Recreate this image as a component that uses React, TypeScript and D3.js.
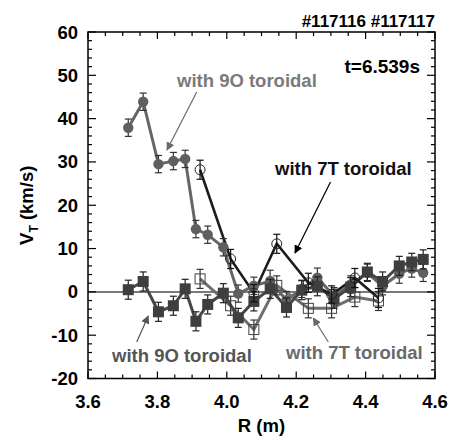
import React from "react";
import * as d3 from "d3";

// ---- data ----
const R9 = [3.716, 3.759, 3.803, 3.846, 3.880, 3.911, 3.945, 3.990, 4.033, 4.078, 4.125, 4.172, 4.216, 4.261, 4.309, 4.357, 4.405, 4.449, 4.497, 4.533, 4.566];
const v9Circle = [37.9, 43.9, 29.5, 30.2, 30.7, 14.5, 13.2, 10.3, -0.4, 1.4, 2.5, -1.9, 0.7, 3.3, -1.0, 1.7, 4.4, 1.3, 4.2, 5.4, 4.4];
const e9Circle = [2.0, 2.0, 2.0, 2.0, 2.0, 2.0, 2.0, 2.0, 2.0, 2.0, 2.5, 2.0, 2.0, 2.2, 2.0, 2.0, 2.0, 2.0, 2.2, 2.0, 2.0];
const v9Square = [0.5, 2.4, -4.6, -3.2, 0.7, -6.8, -2.9, -0.3, -6.0, -2.2, 0.7, -3.6, 0.4, 1.3, -1.6, 1.1, 4.6, 2.4, 6.0, 6.9, 7.5];
const e9Square = [2.2, 2.2, 2.2, 2.2, 2.2, 2.2, 2.2, 2.2, 2.2, 2.2, 2.2, 2.2, 2.2, 2.2, 2.2, 2.2, 2.0, 2.2, 2.2, 2.0, 2.2];
const R7 = [3.923, 4.011, 4.078, 4.144, 4.235, 4.302, 4.369, 4.437];
const v7Circle = [28.2, 7.6, -0.3, 11.1, 2.1, -0.6, 3.2, -1.4];
const e7Circle = [2.2, 2.2, 2.0, 2.2, 2.2, 2.0, 2.2, 2.2];
const v7Square = [3.0, -3.2, -8.7, 1.5, -3.8, -3.8, -1.2, -2.1];
const e7Square = [2.2, 2.2, 2.2, 2.2, 2.2, 2.2, 2.2, 2.2];

const xTicks = [3.6, 3.8, 4.0, 4.2, 4.4, 4.6];
const yTicks = [-20, -10, 0, 10, 20, 30, 40, 50, 60];

const FONT = "'Liberation Sans', Arial, Helvetica, sans-serif";

export default function App() {
  const W = 452, H = 437;
  const x0 = 88, x1 = 435, y0 = 32, y1 = 378.5;
  const x = d3.scaleLinear().domain([3.6, 4.6]).range([x0, x1]);
  const y = d3.scaleLinear().domain([-20, 60]).range([y1, y0]);
  const line = d3.line<[number, number]>().x(d => x(d[0])).y(d => y(d[1]));

  const xMinor = d3.range(0, 21).map(i => 3.6 + i * 0.05);
  const yMinor = d3.range(0, 41).map(i => -20 + i * 2);

  const errBars = (R: number[], v: number[], e: number[], col: string, key: string) =>
    R.map((r, i) => {
      const cx = x(r), ya = y(v[i] + e[i]), yb = y(v[i] - e[i]);
      return (
        <g key={key + i} stroke={col} strokeWidth={1.2}>
          <line x1={cx} x2={cx} y1={ya} y2={yb} />
          <line x1={cx - 3.5} x2={cx + 3.5} y1={ya} y2={ya} />
          <line x1={cx - 3.5} x2={cx + 3.5} y1={yb} y2={yb} />
        </g>
      );
    });

  const pts = (R: number[], v: number[]) => R.map((r, i) => [r, v[i]] as [number, number]);

  return (
    <svg width={W} height={H} style={{ position: "absolute", left: 0, top: 0, background: "#fff" }} fontFamily={FONT}>
      <rect width={W} height={H} fill="#fff" />
      {/* zero line */}
      <line x1={x0} x2={x1} y1={y(0)} y2={y(0)} stroke="#7a7a7a" strokeWidth={2} />

      {/* 9O circles */}
      <path d={line(pts(R9, v9Circle)) || ""} fill="none" stroke="#666" strokeWidth={3} />
      {/* 7T open squares */}
      <path d={line(pts(R7, v7Square)) || ""} fill="none" stroke="#6e6e6e" strokeWidth={3} />
      {/* 9O squares */}
      <path d={line(pts(R9, v9Square)) || ""} fill="none" stroke="#474747" strokeWidth={3} />
      {/* 7T open circles */}
      <path d={line(pts(R7, v7Circle)) || ""} fill="none" stroke="#1c1c1c" strokeWidth={2.6} />

      {errBars(R9, v9Circle, e9Circle, "#333", "ec")}
      {R9.map((r, i) => (
        <circle key={"c" + i} cx={x(r)} cy={y(v9Circle[i])} r={5.2} fill="#5f5f5f" />
      ))}
      {errBars(R7, v7Square, e7Square, "#333", "es")}
      {R7.map((r, i) => (
        <rect key={"os" + i} x={x(r) - 5} y={y(v7Square[i]) - 5} width={10} height={10} fill="none" stroke="#444" strokeWidth={1} />
      ))}
      {errBars(R9, v9Square, e9Square, "#222", "eq")}
      {R9.map((r, i) => (
        <rect key={"s" + i} x={x(r) - 5.5} y={y(v9Square[i]) - 5.5} width={11} height={11} fill="#3e3e3e" />
      ))}
      {errBars(R7, v7Circle, e7Circle, "#111", "eo")}
      {R7.map((r, i) => (
        <circle key={"oc" + i} cx={x(r)} cy={y(v7Circle[i])} r={5} fill="none" stroke="#222" strokeWidth={1} />
      ))}

      {/* frame */}
      <rect x={x0} y={y0} width={x1 - x0} height={y1 - y0} fill="none" stroke="#000" strokeWidth={1.5} />
      {/* ticks */}
      {xMinor.map((t, i) => {
        const len = i % 4 === 0 ? 7 : 4;
        return (
          <g key={"xt" + i} stroke="#000" strokeWidth={1.2}>
            <line x1={x(t)} x2={x(t)} y1={y1} y2={y1 - len} />
            <line x1={x(t)} x2={x(t)} y1={y0} y2={y0 + len} />
          </g>
        );
      })}
      {yMinor.map((t, i) => {
        const len = i % 5 === 0 ? 8 : 4;
        return (
          <g key={"yt" + i} stroke="#000" strokeWidth={1.2}>
            <line x1={x0} x2={x0 + len} y1={y(t)} y2={y(t)} />
            <line x1={x1} x2={x1 - len} y1={y(t)} y2={y(t)} />
          </g>
        );
      })}
      {/* tick labels */}
      {xTicks.map(t => (
        <text key={"xl" + t} x={x(t)} y={408} textAnchor="middle" fontSize={18.5} fontWeight="bold">{t.toFixed(1)}</text>
      ))}
      {yTicks.map(t => (
        <text key={"yl" + t} x={78} y={y(t) + 6.5} textAnchor="end" fontSize={18.5} fontWeight="bold">{t}</text>
      ))}
      {/* axis titles */}
      <text x={(x0 + x1) / 2} y={432} textAnchor="middle" fontSize={18.5} fontWeight="bold">R (m)</text>
      <text transform={`translate(33,${(y0 + y1) / 2}) rotate(-90)`} textAnchor="middle" fontSize={18.5} fontWeight="bold">
        V<tspan fontSize={12} dy={5}>T</tspan><tspan dy={-5}> (km/s)</tspan>
      </text>

      {/* header */}
      <text x={435} y={27} textAnchor="end" fontSize={17} fontWeight="bold">#117116 #117117</text>
      <text x={420} y={73} textAnchor="end" fontSize={19} fontWeight="bold">t=6.539s</text>

      {/* annotations */}
      <defs>
        <marker id="ahg" viewBox="0 0 10 10" refX="9" refY="5" markerWidth="7" markerHeight="7" orient="auto-start-reverse">
          <path d="M0,0 L10,5 L0,10 z" fill="#6a6a6a" />
        </marker>
        <marker id="ahb" viewBox="0 0 10 10" refX="9" refY="5" markerWidth="7" markerHeight="7" orient="auto-start-reverse">
          <path d="M0,0 L10,5 L0,10 z" fill="#000" />
        </marker>
        <marker id="ahd" viewBox="0 0 10 10" refX="9" refY="5" markerWidth="7" markerHeight="7" orient="auto-start-reverse">
          <path d="M0,0 L10,5 L0,10 z" fill="#555" />
        </marker>
      </defs>
      <text x={177} y={87} fontSize={18.5} fontWeight="bold" fill="#7a7a7a">with 9O toroidal</text>
      <line x1={196.7} y1={92} x2={167} y2={150} stroke="#6a6a6a" strokeWidth={1.2} markerEnd="url(#ahg)" />
      <text x={275} y={175} fontSize={18.5} fontWeight="bold" fill="#111">with 7T toroidal</text>
      <line x1={330.5} y1={182} x2={295} y2={253} stroke="#000" strokeWidth={1.2} markerEnd="url(#ahb)" />
      <text x={112} y={362} fontSize={18.5} fontWeight="bold" fill="#555">with 9O toroidal</text>
      <line x1={136.7} y1={342} x2={148.3} y2={316} stroke="#555" strokeWidth={1.2} markerEnd="url(#ahd)" />
      <text x={286} y={359} fontSize={18.5} fontWeight="bold" fill="#6a6a6a">with 7T toroidal</text>
      <line x1={328.3} y1={342} x2={313.3} y2={318} stroke="#6a6a6a" strokeWidth={1.2} markerEnd="url(#ahg)" />
    </svg>
  );
}
